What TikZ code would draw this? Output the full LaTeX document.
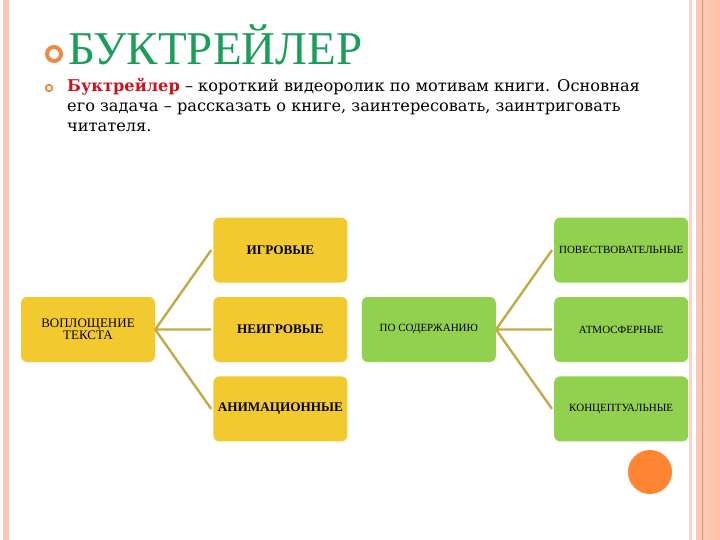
\documentclass[tikz,border=0pt]{standalone}
\usepackage{fontspec}
\setmainfont{Liberation Serif}
\newfontfamily\textofont{DejaVu Serif}
\usetikzlibrary{positioning}

\definecolor{verdetit}{RGB}{26,158,90}
\definecolor{rojotit}{RGB}{200,20,30}
\definecolor{naranja}{RGB}{255,133,51}
\definecolor{anillo}{RGB}{238,138,70}
\definecolor{amarillo}{RGB}{242,202,48}
\definecolor{verdecaja}{RGB}{146,208,80}
\definecolor{oliva}{RGB}{196,170,70}
\definecolor{rosa}{RGB}{250,200,180}
\definecolor{rosaclaro}{RGB}{246,214,200}
\definecolor{durazno}{RGB}{255,196,172}
\definecolor{lineanar}{RGB}{230,150,105}

\begin{document}
\begin{tikzpicture}[x=1pt,y=-1pt,node distance=14pt,
    caja/.style={rounded corners=6pt, minimum width=134pt, minimum height=65pt,
                 align=center, inner sep=2pt},
    ycaja/.style={caja, fill=amarillo, font=\fontsize{13.2}{14}\selectfont\bfseries},
    gcaja/.style={caja, fill=verdecaja, font=\fontsize{11}{12}\selectfont},
    conn/.style={draw=oliva, line width=2.4pt}]

  \useasboundingbox (0,0) rectangle (720,540);

  % Franjas de los bordes.
  \fill[rosa] (3,0) rectangle (9,540);
  \fill[rosaclaro] (689,0) rectangle (692,540);
  \fill[rosa] (696,0) rectangle (720,540);
  \fill[durazno] (708,0) rectangle (720,540);
  \draw[lineanar, line width=1pt] (702,0) -- (702,540);

  % Titulo y texto.
  \draw[anillo, line width=4pt] (54,54) circle (7);
  \node[anchor=base west, inner sep=0pt, text=verdetit,
        font=\fontsize{47}{47}\selectfont] (titulo) at (68,65) {БУКТРЕЙЛЕР};
  \draw[anillo, line width=1.8pt] (49,88) circle (3.3);
  \node[anchor=base west, inner sep=0pt, font=\textofont\fontsize{16.2}{20}\selectfont]
    (linea1) at (67,92) {{\color{rojotit}\bfseries Буктрейлер} – короткий видеоролик по мотивам книги. Основная};
  \node[anchor=base west, inner sep=0pt, font=\textofont\fontsize{16.2}{20}\selectfont]
    (linea2) at (67,112) {его задача – рассказать о книге, заинтересовать, заинтриговать};
  \node[anchor=base west, inner sep=0pt, font=\textofont\fontsize{16.2}{20}\selectfont]
    (linea3) at (67,132) {читателя.};

  % Cajas amarillas.
  \node[ycaja, font=\fontsize{13}{12.5}\selectfont] (vopl) at (88,329.5) {ВОПЛОЩЕНИЕ\\ТЕКСТА};
  \node[ycaja, right=58pt of vopl] (neigr) {НЕИГРОВЫЕ};
  \node[ycaja, above=of neigr] (igr) {ИГРОВЫЕ};
  \node[ycaja, below=of neigr] (anim) {АНИМАЦИОННЫЕ};

  % Cajas verdes.
  \node[gcaja, right=of neigr] (sod) {ПО СОДЕРЖАНИЮ};
  \node[gcaja, right=58pt of sod] (atmo) {АТМОСФЕРНЫЕ};
  \node[gcaja, above=of atmo] (povest) {ПОВЕСТВОВАТЕЛЬНЫЕ};
  \node[gcaja, below=of atmo] (konc) {КОНЦЕПТУАЛЬНЫЕ};

  % Conectores.
  \draw[conn] (vopl.east) -- ([xshift=-2pt]igr.west)
              (vopl.east) -- ([xshift=-2pt]neigr.west)
              (vopl.east) -- ([xshift=-2pt]anim.west);
  \draw[conn] (sod.east) -- ([xshift=-2pt]povest.west)
              (sod.east) -- ([xshift=-2pt]atmo.west)
              (sod.east) -- ([xshift=-2pt]konc.west);

  % Circulo naranja.
  \fill[naranja] (650,472) circle (22);

\end{tikzpicture}
\end{document}
